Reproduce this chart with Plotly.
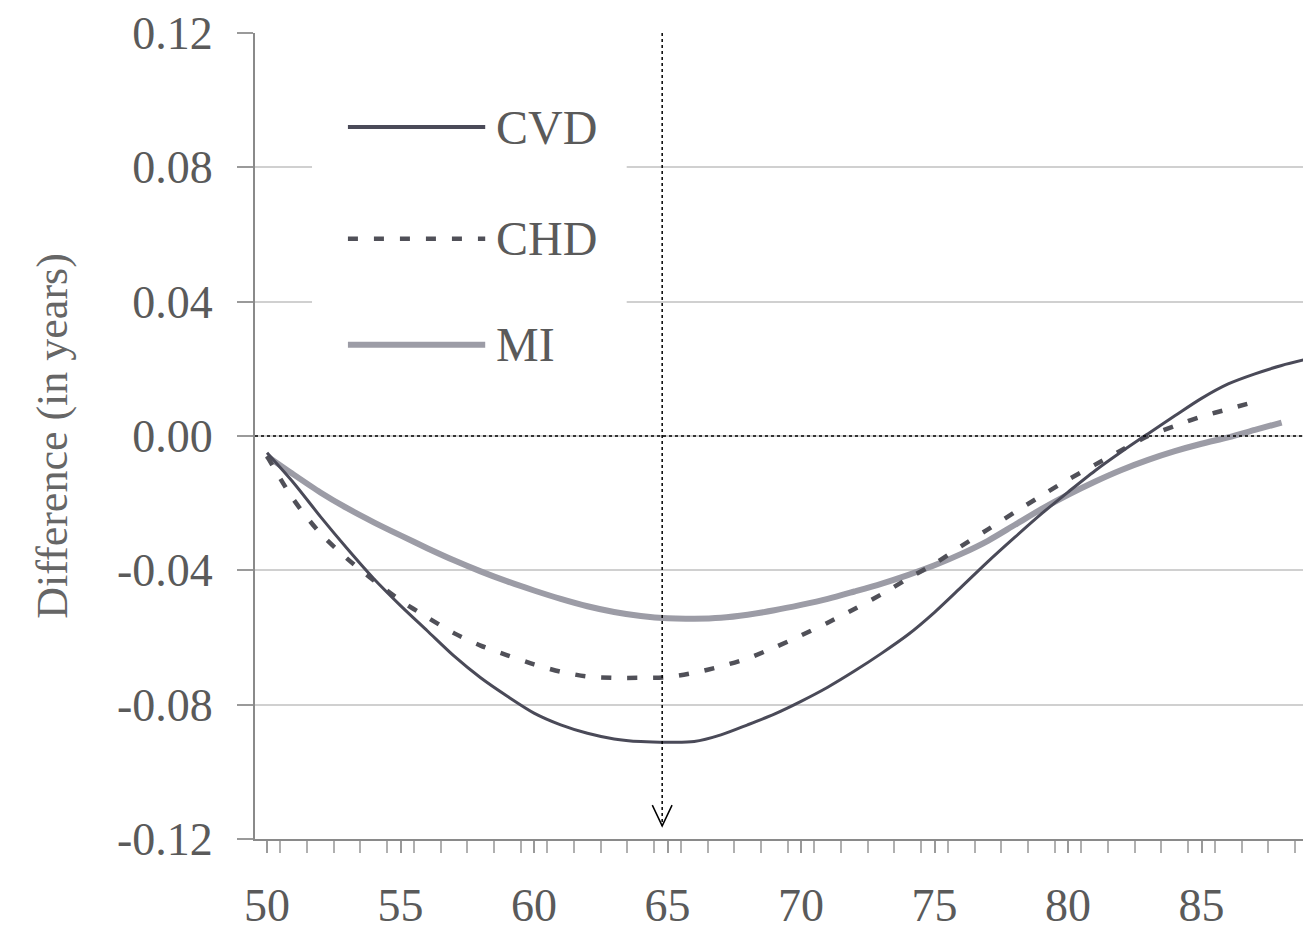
import plotly.graph_objects as go

ages_cvd = list(range(50, 90))
cvd = [-0.005, -0.014, -0.024, -0.0335, -0.0425, -0.0505, -0.058, -0.0655, -0.072, -0.0775,
       -0.0825, -0.086, -0.0885, -0.0902, -0.091, -0.0912, -0.091, -0.089, -0.086, -0.0828,
       -0.079, -0.0748, -0.0700, -0.0648, -0.0592, -0.0525, -0.0450, -0.0374, -0.0302, -0.0232,
       -0.0167, -0.0104, -0.0047, 0.0007, 0.006, 0.0112, 0.0155, 0.0185, 0.021, 0.023]

ages_chd = list(range(50, 88))
chd = [-0.006, -0.019, -0.029, -0.0365, -0.043, -0.049, -0.054, -0.0587, -0.0624, -0.0653,
       -0.068, -0.0702, -0.0716, -0.072, -0.072, -0.0718, -0.0705, -0.0686, -0.0662, -0.063,
       -0.0594, -0.0556, -0.0515, -0.0472, -0.0425, -0.038, -0.0328, -0.0278, -0.0227, -0.0178,
       -0.013, -0.0086, -0.0042, 0.0, 0.003, 0.0058, 0.008, 0.0102]

ages_mi = list(range(50, 89))
mi = [-0.006, -0.0115, -0.0168, -0.0215, -0.0257, -0.0296, -0.0334, -0.037, -0.0403, -0.0433,
      -0.046, -0.0485, -0.0507, -0.0524, -0.0536, -0.0543, -0.0544, -0.0541, -0.0532, -0.0519,
      -0.0503, -0.0485, -0.0463, -0.0440, -0.0414, -0.0385, -0.0351, -0.0312, -0.0265, -0.0218,
      -0.0175, -0.0136, -0.0101, -0.0071, -0.0045, -0.0023, -0.0004, 0.0018, 0.004]

x_ticks = [50, 55, 60, 65, 70, 75, 80, 85]
y_ticks = [-0.12, -0.08, -0.04, 0.0, 0.04, 0.08, 0.12]
y_tick_text = ["-0.12", "-0.08", "-0.04", "0.00", "0.04", "0.08", "0.12"]
series_names = ["CVD", "CHD", "MI"]

FONT = "Liberation Serif"
TXT = "#5a5a5a"
C_CVD = "#4a4a58"
C_CHD = "#505058"
C_MI = "#9c9ca6"

fig = go.Figure()
fig.add_trace(go.Scatter(x=ages_mi, y=mi, mode="lines", name="MI",
                         line=dict(color=C_MI, width=6, shape="spline", smoothing=0.8)))
fig.add_trace(go.Scatter(x=ages_chd, y=chd, mode="lines", name="CHD",
                         line=dict(color=C_CHD, width=4.5, dash="10px,16px", shape="spline", smoothing=0.8)))
fig.add_trace(go.Scatter(x=ages_cvd, y=cvd, mode="lines", name="CVD",
                         line=dict(color=C_CVD, width=3, shape="spline", smoothing=0.8)))

XMIN, XMAX = 49.55, 89.1
shapes = []
# legend background box (covers gridlines)
shapes.append(dict(type="rect", xref="paper", yref="paper", x0=0.054, x1=0.352, y0=0.545, y1=0.954,
                   fillcolor="white", line=dict(width=0), layer="above"))
# zero reference line
shapes.append(dict(type="line", xref="x", yref="y", x0=XMIN, x1=XMAX, y0=0, y1=0,
                   line=dict(color="black", width=1.5, dash="dot"), layer="above"))
# vertical reference line at 65
VX = 64.8
shapes.append(dict(type="line", xref="x", yref="y", x0=VX, x1=VX, y0=0.12, y1=-0.1161,
                   line=dict(color="black", width=1.5, dash="dot"), layer="above"))
shapes.append(dict(type="path", xref="x", yref="y",
                   path=f"M {VX-0.37},{-0.1161+0.0062} L {VX},{-0.1161} L {VX+0.37},{-0.1161+0.0062}",
                   line=dict(color="black", width=1.5), layer="above"))

# custom legend samples
leg_y = [0.0920, 0.0587, 0.0272]
leg_styles = [dict(color=C_CVD, width=4), dict(color=C_CHD, width=4.5, dash="10px,16px"), dict(color=C_MI, width=6)]
annotations = []
for name, yy, st in zip(series_names, leg_y, leg_styles):
    shapes.append(dict(type="line", xref="paper", yref="y", x0=0.088, x1=0.218, y0=yy, y1=yy,
                       line=st, layer="above"))
    annotations.append(dict(x=0.226, y=yy, xref="paper", yref="y", text=name, showarrow=False,
                            xanchor="left", yanchor="middle",
                            font=dict(family=FONT, size=48, color=TXT)))

# page body has an 8px default margin, so the figure is sized/margined to compensate
fig.update_layout(
    width=1303, height=929,
    margin=dict(l=247, r=0, t=25, b=98),
    paper_bgcolor="white", plot_bgcolor="white",
    showlegend=False,
    shapes=shapes, annotations=annotations,
    font=dict(family=FONT, color=TXT),
)
fig.update_xaxes(range=[XMIN, XMAX], tickmode="array", tickvals=x_ticks,
                 ticktext=[str(v) for v in x_ticks], automargin=False,
                 tickfont=dict(family=FONT, size=46, color=TXT),
                 ticks="outside", ticklen=12, tickcolor="#9a9a9a", tickwidth=1.5,
                 minor=dict(dtick=1, tick0=49.5, ticks="outside", ticklen=12, tickcolor="#b0b0b0", tickwidth=1.5, showgrid=False),
                 showline=True, linecolor="#8a8a8a", linewidth=2,
                 showgrid=False, zeroline=False, ticklabelstandoff=13)
fig.update_yaxes(range=[-0.12, 0.12], tickmode="array", tickvals=y_ticks, ticktext=y_tick_text,
                 automargin=False,
                 tickfont=dict(family=FONT, size=46, color=TXT),
                 ticks="outside", ticklen=16, tickcolor="#9a9a9a", tickwidth=1.5,
                 showline=True, linecolor="#8a8a8a", linewidth=2,
                 showgrid=True, gridcolor="#d0d0d0", gridwidth=1.5, zeroline=False,
                 ticklabelstandoff=15,
                 title=dict(text="Difference (in years)", font=dict(family=FONT, size=44, color="#666666"), standoff=36))

fig.write_html("out.html")
